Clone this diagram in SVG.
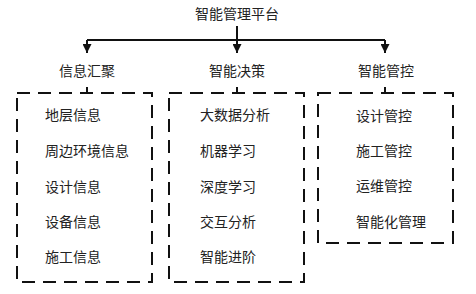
<svg xmlns="http://www.w3.org/2000/svg" width="476" height="294" viewBox="0 0 476 294">
<style>
text{font-family:"Noto Sans CJK SC","Noto Sans",sans-serif;font-size:14px;fill:#222}
.ln{stroke:#111;stroke-width:2;fill:none}
.box{stroke:#111;stroke-width:2;fill:none;stroke-dasharray:13 8}
.c{text-anchor:middle}
</style>
<defs>
<marker id="ah" viewBox="0 0 10 10" refX="10" refY="5" markerWidth="9" markerHeight="9" markerUnits="userSpaceOnUse" orient="auto"><path d="M0,0L10,5L0,10z" fill="#111"/></marker>
</defs>
<rect width="476" height="294" fill="#fff"/>
<g id="root"><text class="c" x="237" y="19">智能管理平台</text></g>
<g id="connectors">
<path class="ln" d="M237,26V53" marker-end="url(#ah)"/>
<path class="ln" d="M87,40H385"/>
<path class="ln" d="M87,40V53" marker-end="url(#ah)"/>
<path class="ln" d="M385,40V53" marker-end="url(#ah)"/>
<path class="ln" d="M87,87V93M237,87V93M385,87V93"/>
</g>
<g id="n1"><text class="c" x="87" y="76">信息汇聚</text>
<rect class="box" x="17" y="93" width="135" height="189"/>
<text x="45" y="120">地层信息</text><text x="45" y="156">周边环境信息</text><text x="45" y="192">设计信息</text><text x="45" y="227">设备信息</text><text x="45" y="262">施工信息</text></g>
<g id="n2"><text class="c" x="237" y="76">智能决策</text>
<rect class="box" x="169" y="93" width="135" height="189"/>
<text x="200" y="120">大数据分析</text><text x="200" y="156">机器学习</text><text x="200" y="192">深度学习</text><text x="200" y="227">交互分析</text><text x="200" y="262">智能进阶</text></g>
<g id="n3"><text class="c" x="386" y="76">智能管控</text>
<rect class="box" x="318" y="93" width="135" height="150"/>
<text x="356" y="121">设计管控</text><text x="356" y="156">施工管控</text><text x="356" y="191">运维管控</text><text x="356" y="227">智能化管理</text></g>
</svg>
